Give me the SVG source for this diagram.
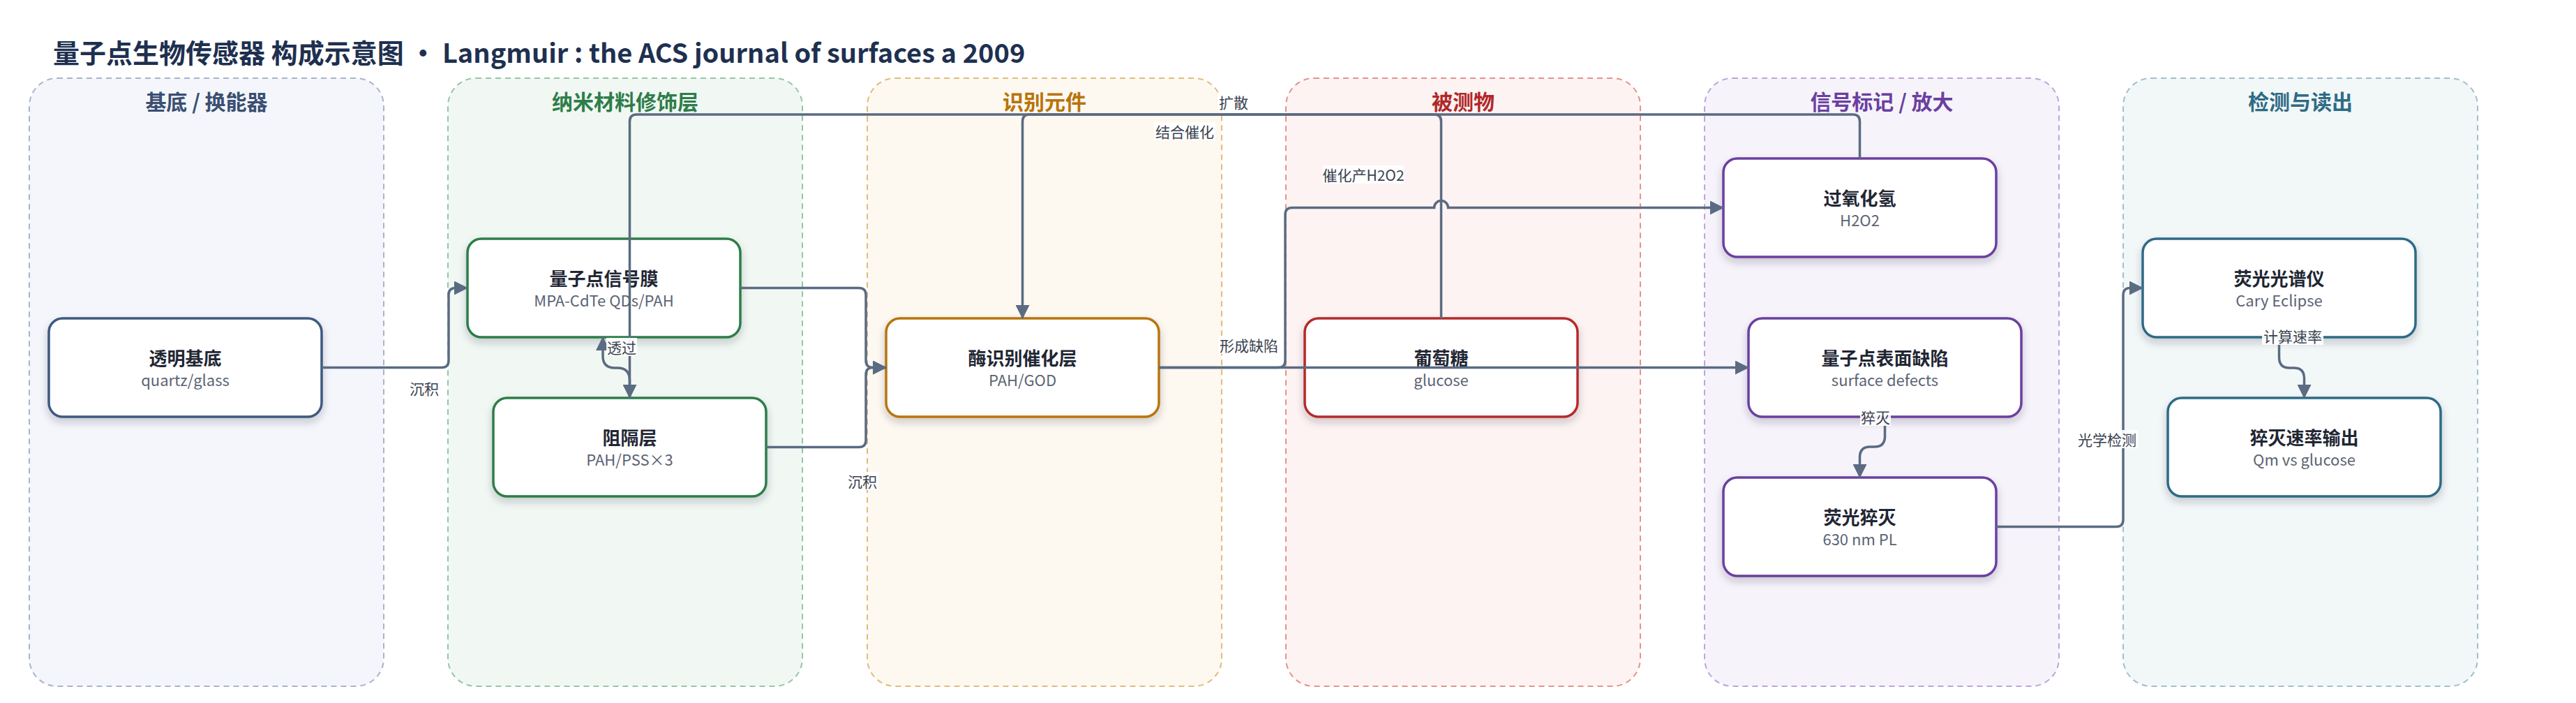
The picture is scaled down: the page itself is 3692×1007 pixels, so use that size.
<svg xmlns="http://www.w3.org/2000/svg" width="3692" height="1007" viewBox="0 0 3692 1007">
<style>
text{font-family:"Noto Sans CJK SC","Noto Sans",sans-serif}
.ttl{font-size:38px;font-weight:700;fill:#1e3050}
.pt{font-size:30px;font-weight:700;text-anchor:middle}
.panel{stroke-width:2;stroke-dasharray:8 6}
.node rect{fill:#fff;stroke-width:3.5;filter:url(#sh)}
.nt{font-size:26px;font-weight:700;fill:#1f2633;text-anchor:middle}
.ns{font-size:22px;fill:#5b6474;text-anchor:middle}
.e{fill:none;stroke:#5a6b82;stroke-width:3.5}
.ea{marker-end:url(#ar)}
.lb{fill:#fff;fill-opacity:0.92}
.lt{font-size:21px;fill:#3a4250;text-anchor:middle;dominant-baseline:central}
</style>
<defs>
<filter id="sh" x="-10%" y="-20%" width="120%" height="150%">
<feDropShadow dx="0" dy="6" stdDeviation="6" flood-color="#1e2a3a" flood-opacity="0.22"/>
</filter>
<marker id="ar" markerUnits="userSpaceOnUse" markerWidth="20" markerHeight="20" viewBox="0 0 20 20" refX="19" refY="10" orient="auto">
<path d="M0,0 L20,10 L0,20 z" fill="#5a6b82"/>
</marker>
</defs>
<rect width="3692" height="1007" fill="#fff"/>
<text class="ttl" x="76" y="90">量子点生物传感器 构成示意图 · Langmuir : the ACS journal of surfaces a 2009</text>

<g id="panels">
<g id="p1"><rect class="panel" x="42" y="112" width="508" height="871" rx="40" fill="#f4f6fb" stroke="#a8b4cc"/><text class="pt" x="296" y="157" fill="#3a4f72">基底 / 换能器</text></g>
<g id="p2"><rect class="panel" x="642" y="112" width="508" height="871" rx="40" fill="#f1f8f3" stroke="#94c6a6"/><text class="pt" x="896" y="157" fill="#2e7d4a">纳米材料修饰层</text></g>
<g id="p3"><rect class="panel" x="1243" y="112" width="508" height="871" rx="40" fill="#fdf8f0" stroke="#e3bb7c"/><text class="pt" x="1497" y="157" fill="#b8740a">识别元件</text></g>
<g id="p4"><rect class="panel" x="1843" y="112" width="508" height="871" rx="40" fill="#fdf3f2" stroke="#e4938e"/><text class="pt" x="2097" y="157" fill="#b0282a">被测物</text></g>
<g id="p5"><rect class="panel" x="2443" y="112" width="508" height="871" rx="40" fill="#f6f3fb" stroke="#bea4dc"/><text class="pt" x="2697" y="157" fill="#6b3fa0">信号标记 / 放大</text></g>
<g id="p6"><rect class="panel" x="3043" y="112" width="508" height="871" rx="40" fill="#f2f7f8" stroke="#9fc0cc"/><text class="pt" x="3297" y="157" fill="#2e6b85">检测与读出</text></g>
</g>

<g id="nodes">
<g id="n1" class="node"><rect x="70" y="456" width="391" height="141" rx="20" stroke="#3d5a80"/><text class="nt" x="265.5" y="523">透明基底</text><text class="ns" x="265.5" y="553">quartz/glass</text></g>
<g id="n2" class="node"><rect x="670" y="342" width="391" height="141" rx="20" stroke="#2e7d4a"/><text class="nt" x="865.5" y="409">量子点信号膜</text><text class="ns" x="865.5" y="439">MPA-CdTe QDs/PAH</text></g>
<g id="n3" class="node"><rect x="707" y="570" width="391" height="141" rx="20" stroke="#2e7d4a"/><text class="nt" x="902.5" y="637">阻隔层</text><text class="ns" x="902.5" y="667">PAH/PSS×3</text></g>
<g id="n4" class="node"><rect x="1270" y="456" width="391" height="141" rx="20" stroke="#b8740a"/><text class="nt" x="1465.5" y="523">酶识别催化层</text><text class="ns" x="1465.5" y="553">PAH/GOD</text></g>
<g id="n5" class="node"><rect x="1870" y="456" width="391" height="141" rx="20" stroke="#b52a2a"/><text class="nt" x="2065.5" y="523">葡萄糖</text><text class="ns" x="2065.5" y="553">glucose</text></g>
<g id="n6" class="node"><rect x="2470" y="227" width="391" height="141" rx="20" stroke="#6b3fa0"/><text class="nt" x="2665.5" y="294">过氧化氢</text><text class="ns" x="2665.5" y="324">H2O2</text></g>
<g id="n7" class="node"><rect x="2506" y="456" width="391" height="141" rx="20" stroke="#6b3fa0"/><text class="nt" x="2701.5" y="523">量子点表面缺陷</text><text class="ns" x="2701.5" y="553">surface defects</text></g>
<g id="n8" class="node"><rect x="2470" y="684" width="391" height="141" rx="20" stroke="#6b3fa0"/><text class="nt" x="2665.5" y="751">荧光猝灭</text><text class="ns" x="2665.5" y="781">630 nm PL</text></g>
<g id="n9" class="node"><rect x="3071" y="342" width="391" height="141" rx="20" stroke="#2e6b85"/><text class="nt" x="3266.5" y="409">荧光光谱仪</text><text class="ns" x="3266.5" y="439">Cary Eclipse</text></g>
<g id="n10" class="node"><rect x="3107" y="570" width="391" height="141" rx="20" stroke="#2e6b85"/><text class="nt" x="3302.5" y="637">猝灭速率输出</text><text class="ns" x="3302.5" y="667">Qm vs glucose</text></g>
</g>

<g id="connectors">
<path class="e ea" d="M461,526.5 H633 Q643,526.5 643,516.5 V422.5 Q643,412.5 653,412.5 H670"/>
<path class="e ea" d="M1061,412.5 H1231 Q1241,412.5 1241,422.5 V516.5 Q1241,526.5 1251,526.5 H1270"/>
<path class="e ea" d="M1098,640.5 H1231 Q1241,640.5 1241,630.5 V536.5 Q1241,526.5 1251,526.5 H1270"/>
<path class="e ea" d="M2665.5,227 V174 Q2665.5,164 2655.5,164 H912.5 Q902.5,164 902.5,174 V570"/>
<path class="e ea" d="M2065.5,456 V174 Q2065.5,164 2055.5,164 H1475.5 Q1465.5,164 1465.5,174 V456"/>
<path class="e ea" d="M1661,526.5 H2506"/>
<path class="e ea" d="M1661,526.5 H1832 Q1842,526.5 1842,516.5 V307.5 Q1842,297.5 1852,297.5 H2055.5 A10,10 0 0 1 2075.5,297.5 H2470"/>
<path class="e ea" d="M902.5,570 V545 Q902.5,527 885,527 H881 Q864,527 864,510 V483"/>
<path class="e ea" d="M2701.5,597 V625 Q2701.5,640 2686.5,640 H2680.5 Q2665.5,640 2665.5,655 V684"/>
<path class="e ea" d="M2861,754.5 H3033 Q3043,754.5 3043,744.5 V422.5 Q3043,412.5 3053,412.5 H3071"/>
<path class="e ea" d="M3266.5,483 V512 Q3266.5,527 3281.5,527 H3287.5 Q3302.5,527 3302.5,542 V570"/>
<g id="labels">
<rect class="lb" x="585" y="543" width="46" height="26"/><text class="lt" x="608" y="556">沉积</text>
<rect class="lb" x="1213" y="676" width="46" height="26"/><text class="lt" x="1236" y="689">沉积</text>
<rect class="lb" x="1745" y="133" width="46" height="26"/><text class="lt" x="1768" y="146">扩散</text>
<rect class="lb" x="1654" y="175" width="88" height="26"/><text class="lt" x="1698" y="188">结合催化</text>
<rect class="lb" x="1896" y="237" width="116" height="26"/><text class="lt" x="1954" y="250">催化产H2O2</text>
<rect class="lb" x="1746" y="481" width="88" height="26"/><text class="lt" x="1790" y="494">形成缺陷</text>
<rect class="lb" x="869" y="484" width="44" height="26"/><text class="lt" x="891" y="497">透过</text>
<rect class="lb" x="2666" y="584" width="44" height="26"/><text class="lt" x="2688" y="597">猝灭</text>
<rect class="lb" x="2976" y="616" width="88" height="26"/><text class="lt" x="3020" y="629">光学检测</text>
<rect class="lb" x="3242" y="468" width="88" height="26"/><text class="lt" x="3286" y="481">计算速率</text>
</g>
</g>
</svg>
